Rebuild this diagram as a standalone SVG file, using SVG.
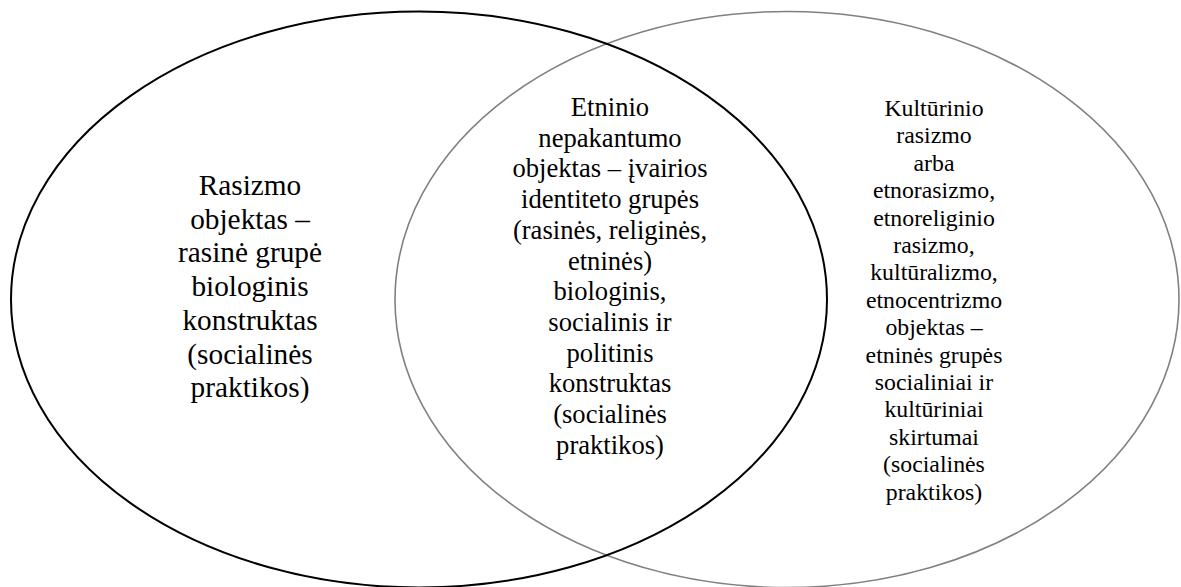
<svg xmlns="http://www.w3.org/2000/svg" width="1181" height="587" viewBox="0 0 1181 587">
<style>
.t{font-family:"Liberation Serif","Times New Roman",serif;fill:#000;text-anchor:middle}
.l{font-size:29.3px}
.m{font-size:26.6px}
.r{font-size:23.8px}
</style>
<rect width="1181" height="587" fill="#fff"/>
<g id="ellipse-right">
<ellipse cx="787" cy="299.5" rx="392" ry="288" fill="none" stroke="#808080" stroke-width="1.6"/>
</g>
<g id="ellipse-left">
<ellipse cx="419" cy="299.5" rx="408" ry="288" fill="none" stroke="#000" stroke-width="2"/>
</g>
<g id="text-left" class="t l">
<text x="250" y="195">Rasizmo</text>
<text x="250" y="229">objektas –</text>
<text x="250" y="262">rasinė grupė</text>
<text x="250" y="296">biologinis</text>
<text x="250" y="330">konstruktas</text>
<text x="250" y="364">(socialinės</text>
<text x="250" y="397">praktikos)</text>
</g>
<g id="text-middle" class="t m">
<text x="610" y="116">Etninio</text>
<text x="610" y="146.7">nepakantumo</text>
<text x="610" y="177.4">objektas – įvairios</text>
<text x="610" y="208.1">identiteto grupės</text>
<text x="610" y="238.8">(rasinės, religinės,</text>
<text x="610" y="269.5">etninės)</text>
<text x="610" y="300.2">biologinis,</text>
<text x="610" y="330.9">socialinis ir</text>
<text x="610" y="361.6">politinis</text>
<text x="610" y="392.3">konstruktas</text>
<text x="610" y="423">(socialinės</text>
<text x="610" y="453.7">praktikos)</text>
</g>
<g id="text-right" class="t r">
<text x="934" y="116">Kultūrinio</text>
<text x="934" y="143.4">rasizmo</text>
<text x="934" y="170.8">arba</text>
<text x="934" y="198.2">etnorasizmo,</text>
<text x="934" y="225.6">etnoreliginio</text>
<text x="934" y="253">rasizmo,</text>
<text x="934" y="280.4">kultūralizmo,</text>
<text x="934" y="307.8">etnocentrizmo</text>
<text x="934" y="335.2">objektas –</text>
<text x="934" y="362.6">etninės grupės</text>
<text x="934" y="390">socialiniai ir</text>
<text x="934" y="417.4">kultūriniai</text>
<text x="934" y="444.8">skirtumai</text>
<text x="934" y="472.2">(socialinės</text>
<text x="934" y="499.6">praktikos)</text>
</g>
</svg>
